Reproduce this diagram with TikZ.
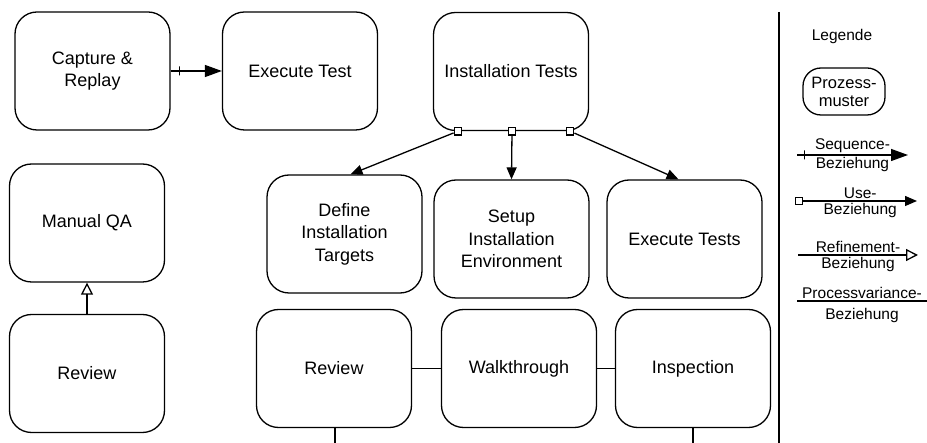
\documentclass[tikz,border=0pt]{standalone}
\usepackage{fontspec}
\setmainfont{Liberation Sans}
\usetikzlibrary{arrows.meta}

\begin{document}
\begin{tikzpicture}[x=1pt,y=-1pt,line width=1.3pt,
	proc/.style={shape=rectangle,draw,rounded corners=22pt,minimum width=155pt,minimum height=118pt,align=center,font=\fontsize{18}{22.5}\selectfont},
	legproc/.style={shape=rectangle,draw,rounded corners=18pt,minimum width=82pt,minimum height=47pt,inner sep=1pt,align=center,font=\fontsize{16.5}{18}\selectfont},
	lbl/.style={font=\fontsize{15.5}{17}\selectfont,inner sep=1.5pt},
	seqarrow/.style={-{Triangle[length=17pt,width=12pt]}},
	usearrow/.style={-{Triangle[length=12pt,width=10pt]}},
	refarrow/.style={-{Triangle[open,length=12pt,width=12pt]}},
	seqtick/.style={draw,inner sep=0pt,minimum width=0pt,minimum height=9pt},
	usebox/.style={draw,fill=white,inner sep=0pt,minimum size=7.5pt},
	]
	\useasboundingbox (0,0) rectangle (927,443);
	% create the nodes
	\node (cap) [proc] at (92.5,71) {Capture \&\\Replay};
	\node (exe) [proc] at (300,71) {Execute Test};
	\node (inst) [proc] at (511,71.5) {Installation Tests};
	\node (def) [proc] at (344.5,234) {Define\\Installation\\Targets};
	\node (setup) [proc] at (511.5,239) {Setup\\Installation\\Environment};
	\node (exts) [proc] at (684.5,239) {Execute Tests};
	\node (mqa) [proc] at (87,223) {Manual QA};
	\node (rev1) [proc] at (87,373.5) {Review};
	\node (rev2) [proc] at (334,368.5) {Review};
	\node (walk) [proc] at (519,368.5) {Walkthrough};
	\node (insp) [proc] at (693,368.5) {Inspection};
	
	% use markers on the bottom of Installation Tests
	\node (u1) [usebox] at ([xshift=-53pt]inst.south) {};
	\node (u2) [usebox] at ([xshift=1pt]inst.south) {};
	\node (u3) [usebox] at ([xshift=59pt]inst.south) {};
	
	\coordinate (rev2out) at ([xshift=1pt,yshift=-16pt]rev2.south);
	\coordinate (inspout) at ([yshift=-16pt]insp.south);
	
	% connect the nodes
	\draw[seqarrow] (cap) -- node[seqtick,pos=0.17] {} (exe);
	\draw[usearrow] (u1) -- ([xshift=6pt]def.north);
	\draw[usearrow] (u2) -- (setup.north);
	\draw[usearrow] (u3) -- ([xshift=-6pt]exts.north);
	\draw[refarrow] (rev1) -- (mqa);
	\draw (rev2) -- (walk);
	\draw (walk) -- (insp);
	\draw ([xshift=1pt]rev2.south) -- (rev2out);
	\draw (insp) -- (inspout);
	
	% legend
	\draw (779,12) -- (779,443);
	\node (leg) [lbl] at (842,36) {Legende};
	\node (pm) [legproc] at (844,91.5) {Prozess-\\muster};
	
	\coordinate (seqa) at (797,155);
	\coordinate (seqb) at (908,155);
	\draw[seqarrow] (seqa) -- node[seqtick,pos=0.07] {} node[lbl,midway,above] {Sequence-} node[lbl,midway,below] {Beziehung} (seqb);
	
	\node (usea) [usebox] at (799,201) {};
	\coordinate (useb) at (917,201);
	\draw[usearrow] (usea) -- node[lbl,midway,above] {Use-} node[lbl,midway,below] {Beziehung} (useb);
	
	\coordinate (refa) at (798,255);
	\coordinate (refb) at (918,255);
	\draw[refarrow] (refa) -- node[lbl,midway,above] {Refinement-} node[lbl,midway,below] {Beziehung} (refb);
	
	\coordinate (pva) at (797,301);
	\coordinate (pvb) at (927,301);
	\draw (pva) -- node[lbl,midway,above] {Processvariance-} node[lbl,midway,below=5pt] {Beziehung} (pvb);
\end{tikzpicture}
\end{document}
